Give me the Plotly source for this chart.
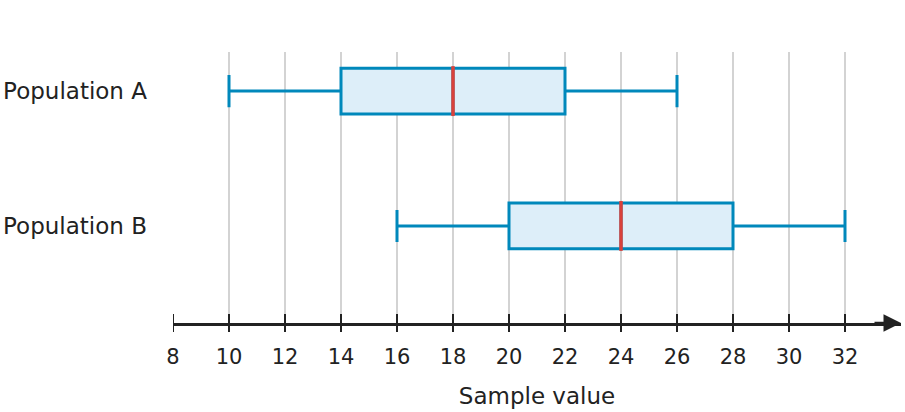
import plotly.graph_objects as go

# Data
populations = ["Population A", "Population B"]
mins = [10, 16]
q1s = [14, 20]
medians = [18, 24]
q3s = [22, 28]
maxs = [26, 32]
tick_values = [8, 10, 12, 14, 16, 18, 20, 22, 24, 26, 28, 30, 32]
grid_values = tick_values + [34]

BOX_LINE = "#0088bb"
BOX_FILL = "#ddeef9"
MEDIAN = "#d9413b"
TEXT = "#222222"
FONT = "DejaVu Sans"
BOX_W = 0.34
MED_HALF = 0.185

fig = go.Figure()
for i, name in enumerate(populations):
    fig.add_trace(go.Box(
        y=[i], q1=[q1s[i]], median=[medians[i]], q3=[q3s[i]],
        lowerfence=[mins[i]], upperfence=[maxs[i]],
        orientation="h", width=BOX_W, whiskerwidth=0.7,
        line=dict(color=BOX_LINE, width=3), fillcolor=BOX_FILL,
        name=name, showlegend=False, hoverinfo="skip",
    ))
    fig.add_trace(go.Scatter(
        x=[medians[i], medians[i]], y=[i - MED_HALF, i + MED_HALF],
        mode="lines", line=dict(color=MEDIAN, width=3.5),
        showlegend=False, hoverinfo="skip",
    ))

shapes = []
for v in tick_values:
    shapes.append(dict(type="line", xref="x", yref="paper", x0=v, x1=v,
                       ysizemode="pixel", yanchor=0, y0=-9, y1=9,
                       line=dict(color=TEXT, width=2)))

fig.update_layout(
    width=905, height=412,
    margin=dict(l=173, r=4, t=52, b=89),
    plot_bgcolor="white", paper_bgcolor="white",
    font=dict(family=FONT, color=TEXT, size=20),
    shapes=shapes,
    annotations=[dict(x=34, y=0, xref="x", yref="paper", ax=33, ay=0,
                      axref="x", ayref="pixel", showarrow=True, text="",
                      arrowhead=2, arrowsize=1.4, arrowwidth=2.5,
                      arrowcolor=TEXT)],
    xaxis=dict(
        range=[8, 34], tickvals=grid_values,
        ticktext=[str(v) for v in tick_values] + [""],
        showgrid=True, gridcolor="#d3d3d3", gridwidth=2,
        zeroline=False, showline=True, linecolor=TEXT, linewidth=2.5,
        ticks="", ticklabelstandoff=13,
        tickfont=dict(size=21, color=TEXT),
        title=dict(text="Sample value", font=dict(size=23, color=TEXT), standoff=20),
    ),
    yaxis=dict(
        range=[1.72, -0.29], tickvals=[0, 1], ticktext=populations,
        showgrid=False, zeroline=False, showline=False, ticks="",
        ticklabelstandoff=25, tickfont=dict(size=23, color=TEXT),
    ),
)

fig.write_html("out.html", config={"displayModeBar": False},
               post_script="document.body.style.margin='0';")
